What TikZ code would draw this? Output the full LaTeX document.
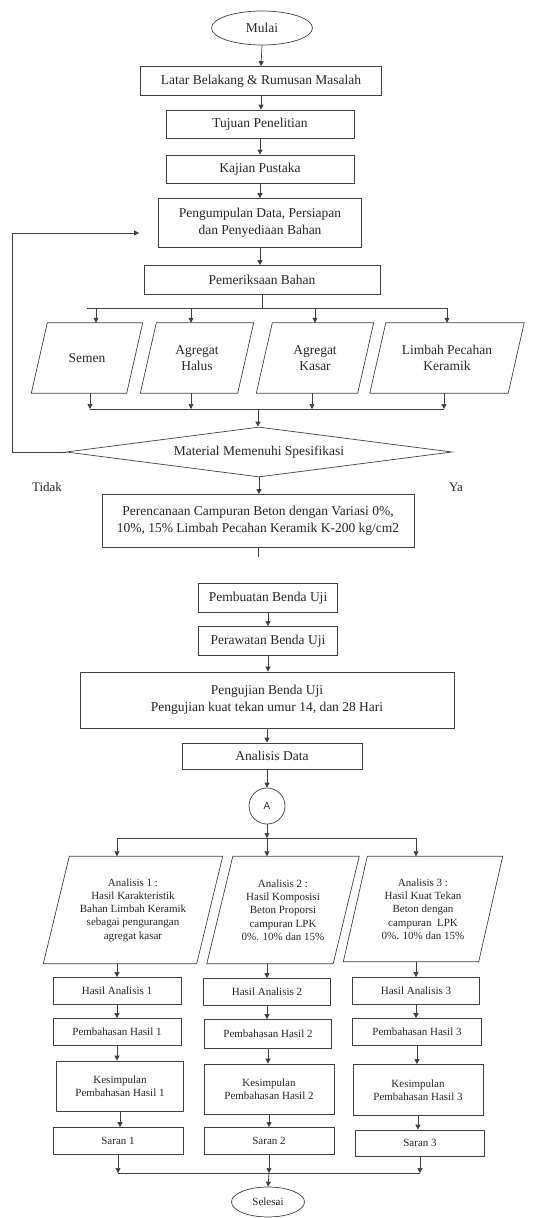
\documentclass[tikz,border=0pt]{standalone}
\usepackage{fontspec}
\setmainfont{Liberation Serif}
\newfontfamily\sansA{Liberation Sans}
\usepackage{tikz}
\usetikzlibrary{positioning,shapes.geometric,arrows.meta}

% parallelogram drawn round a text node
\newcommand{\slantdraw}[2]{%
	\draw[line width=0.7pt, draw=black!75]
	([xshift=#2]#1.north west) -- ([xshift=#2]#1.north east) --
	([xshift=-#2]#1.south east) -- ([xshift=-#2]#1.south west) -- cycle;}

\begin{document}
\begin{tikzpicture}[x=1pt, y=-1pt,
			box/.style={
				draw=black!75, line width=0.7pt, rectangle, align=center,
				inner sep=0pt, text=black!85,
				font=\fontsize{13.5}{16.5}\selectfont
			},
			smallbox/.style={box, font=\fontsize{11}{13.3}\selectfont},
			slanted/.style={
				rectangle, align=center, inner sep=0pt, text=black!85,
				font=\fontsize{13.5}{16.5}\selectfont
			},
			smallslanted/.style={slanted, font=\fontsize{11}{13.3}\selectfont},
			oval/.style={box, ellipse},
			decision/.style={box, diamond, shape aspect=7.7},
			lbl/.style={text=black!85, font=\fontsize{13}{15}\selectfont},
			arr/.style={-{Triangle[length=5pt,width=5pt]}, line width=0.7pt, draw=black!75},
			conn/.style={line width=0.7pt, draw=black!75}
			]
			\useasboundingbox (0,0) rectangle (533,1218);
			
			%==================== tahap awal ====================
			\node[oval, minimum width=101pt, minimum height=34pt] (start) at (262,28) {Mulai};
			\node[box, minimum width=241pt, minimum height=29pt] (latar) at (261,81) {Latar Belakang \& Rumusan Masalah};
			\node[box, minimum width=188pt, minimum height=28pt] (tujuan) at (260,124) {Tujuan Penelitian};
			\node[box, minimum width=188pt, minimum height=28pt] (kajian) at (260,169) {Kajian Pustaka};
			\node[box, minimum width=203pt, minimum height=49pt] (kumpul) at (260,223) {Pengumpulan Data, Persiapan\\dan Penyediaan Bahan};
			\node[box, minimum width=236pt, minimum height=29pt] (periksa) at (262,280) {Pemeriksaan Bahan};
			
			%==================== bahan ====================
			\node[slanted, minimum width=95pt, minimum height=70pt] (semen) at (87,358) {Semen};
			\node[slanted, minimum width=97pt, minimum height=70pt] (halus) at (197,358) {Agregat\\Halus};
			\node[slanted, minimum width=101pt, minimum height=70pt] (kasar) at (315,358) {Agregat\\Kasar};
			\node[slanted, minimum width=138pt, minimum height=70pt] (limbah) at (447,358) {Limbah Pecahan\\Keramik};
			\slantdraw{semen}{8pt}
			\slantdraw{halus}{8pt}
			\slantdraw{kasar}{8pt}
			\slantdraw{limbah}{8pt}
			
			\coordinate (split1) at (262,308);
			\coordinate (join1) at (258,409);
			
			\node[decision, minimum width=386pt, minimum height=50pt] (cek) at (259,452) {Material Memenuhi Spesifikasi};
			\coordinate (back) at (12,233);
			\node[lbl] (tidak) at (47,487) {Tidak};
			\node[lbl] (ya) at (456,487) {Ya};
			
			\node[box, minimum width=312pt, minimum height=53pt] (rencana) at (258,521) {Perencanaan Campuran Beton dengan Variasi 0\%,\\10\%, 15\% Limbah Pecahan Keramik K-200 kg/cm2};
			\coordinate (cut) at (258,557);
			
			%==================== benda uji ====================
			\node[box, minimum width=139pt, minimum height=29pt] (buat) at (268,598) {Pembuatan Benda Uji};
			\node[box, minimum width=139pt, minimum height=29pt] (rawat) at (268,641) {Perawatan Benda Uji};
			\node[box, minimum width=374pt, minimum height=56pt] (uji) at (267,700) {Pengujian Benda Uji\\Pengujian kuat tekan umur 14, dan 28 Hari};
			\node[box, minimum width=180pt, minimum height=26pt] (data) at (272,756) {Analisis Data};
			\node[box, circle, minimum size=36pt, font=\sansA\fontsize{10}{12}\selectfont] (conA) at (267,806) {A};
			\coordinate (split2) at (267,838);
			
			%==================== analisis ====================
			\node[smallslanted, minimum width=153pt, minimum height=107pt] (an1) at (133,910) {Analisis 1 :\\Hasil Karakteristik\\Bahan Limbah Keramik\\sebagai pengurangan\\agregat kasar};
			\node[smallslanted, minimum width=126pt, minimum height=107pt] (an2) at (283,910) {Analisis 2 :\\Hasil Komposisi\\Beton Proporsi\\campuran LPK\\0\%. 10\% dan 15\%};
			\node[smallslanted, minimum width=135pt, minimum height=105pt] (an3) at (423,909) {Analisis 3 :\\Hasil Kuat Tekan\\Beton dengan\\campuran\ \ LPK\\0\%. 10\% dan 15\%};
			\slantdraw{an1}{13pt}
			\slantdraw{an2}{13pt}
			\slantdraw{an3}{12pt}
			
			\node[smallbox, minimum width=128pt, minimum height=27pt] (hasil1) at (117,991) {Hasil Analisis 1};
			\node[smallbox, minimum width=127pt, minimum height=27pt] (hasil2) at (267,992) {Hasil Analisis 2};
			\node[smallbox, minimum width=127pt, minimum height=27pt] (hasil3) at (416,991) {Hasil Analisis 3};
			
			\node[smallbox, minimum width=128pt, minimum height=27pt] (bahas1) at (117,1032) {Pembahasan Hasil 1};
			\node[smallbox, minimum width=127pt, minimum height=29pt] (bahas2) at (268,1034) {Pembahasan Hasil 2};
			\node[smallbox, minimum width=129pt, minimum height=27pt] (bahas3) at (417,1032) {Pembahasan Hasil 3};
			
			\node[smallbox, minimum width=127pt, minimum height=50pt] (simpul1) at (120,1086) {Kesimpulan\\Pembahasan Hasil 1};
			\node[smallbox, minimum width=130pt, minimum height=50pt] (simpul2) at (269,1089) {Kesimpulan\\Pembahasan Hasil 2};
			\node[smallbox, minimum width=130pt, minimum height=51pt] (simpul3) at (418,1090) {Kesimpulan\\Pembahasan Hasil 3};
			
			\node[smallbox, minimum width=130pt, minimum height=27pt] (saran1) at (118,1141) {Saran 1};
			\node[smallbox, minimum width=130pt, minimum height=27pt] (saran2) at (269,1141) {Saran 2};
			\node[smallbox, minimum width=129pt, minimum height=26pt] (saran3) at (420,1143) {Saran 3};
			
			\coordinate (join2) at (269,1173);
			\node[oval, minimum width=73pt, minimum height=30pt, font=\fontsize{11}{13}\selectfont] (end) at (268,1202) {Selesai};
			
			%==================== connectors ====================
			\draw[arr] (start.south) -- (latar.north);
			\draw[arr] (latar.south) -- (latar.south |- tujuan.north);
			\draw[arr] (tujuan.south) -- (kajian.north);
			\draw[arr] (kajian.south) -- (kumpul.north);
			\draw[arr] (kumpul.south) -- (kumpul.south |- periksa.north);
			
			\draw[conn] (periksa.south) -- (periksa.south |- split1);
			\draw[conn] (split1 -| semen.north) -- (split1 -| limbah.north);
			\draw[arr] ([xshift=9pt]semen.north |- split1) -- ([xshift=9pt]semen.north);
			\draw[arr] ([xshift=-6pt]halus.north |- split1) -- ([xshift=-6pt]halus.north);
			\draw[arr] (kasar.north |- split1) -- (kasar.north);
			\draw[arr] (limbah.north |- split1) -- (limbah.north);
			
			\draw[arr] ([xshift=3pt]semen.south) -- ([xshift=3pt]semen.south |- join1);
			\draw[arr] ([xshift=-6pt]halus.south) -- ([xshift=-6pt]halus.south |- join1);
			\draw[arr] ([xshift=-3pt]kasar.south) -- ([xshift=-3pt]kasar.south |- join1);
			\draw[arr] ([xshift=-3pt]limbah.south) -- ([xshift=-3pt]limbah.south |- join1);
			\draw[conn] ([xshift=3pt]semen.south |- join1) -- ([xshift=-3pt]limbah.south |- join1);
			\draw[arr] (join1) -- (join1 |- cek.north);
			
			\draw[arr, shorten >=19pt] (cek.west) -| (back) -- (back -| kumpul.west);
			\draw[arr] (cek.south) -- (cek.south |- rencana.north);
			\draw[conn] (rencana.south) -- (cut);
			
			\draw[arr] (buat.south) -- (rawat.north);
			\draw[arr] (rawat.south) -- (rawat.south |- uji.north);
			\draw[arr] (uji.south) -- (uji.south |- data.north);
			\draw[arr] (data.south -| conA.north) -- (conA.north);
			
			\draw[arr] (conA.south) -- (split2);
			\draw[conn] (split2 -| hasil1.north) -- (split2 -| hasil3.north);
			\draw[arr] (split2 -| hasil1.north) -- (hasil1.north |- an1.north);
			\draw[arr] (split2) -- (split2 |- an2.north);
			\draw[arr] (split2 -| hasil3.north) -- (hasil3.north |- an3.north);
			
			\draw[arr] (an1.south -| hasil1.north) -- (hasil1.north);
			\draw[arr] (an2.south -| hasil2.north) -- (hasil2.north);
			\draw[arr] (an3.south -| hasil3.north) -- (hasil3.north);
			\draw[arr] (hasil1.south) -- (hasil1.south |- bahas1.north);
			\draw[arr] (hasil2.south) -- (hasil2.south |- bahas2.north);
			\draw[arr] (hasil3.south) -- (hasil3.south |- bahas3.north);
			\draw[arr] (bahas1.south) -- (bahas1.south |- simpul1.north);
			\draw[arr] (bahas2.south) -- (bahas2.south |- simpul2.north);
			\draw[arr] (bahas3.south) -- (bahas3.south |- simpul3.north);
			\draw[arr] (simpul1.south) -- (simpul1.south |- saran1.north);
			\draw[arr] (simpul2.south) -- (simpul2.south |- saran2.north);
			\draw[arr] (simpul3.south) -- (simpul3.south |- saran3.north);
			
			\draw[arr] (saran1.south) -- (saran1.south |- join2);
			\draw[arr] (saran2.south) -- (join2);
			\draw[arr] (saran3.south) -- (saran3.south |- join2);
			\draw[conn] (saran1.south |- join2) -- (saran3.south |- join2);
			\draw[arr] (join2) -- (end.north);
			
		\end{tikzpicture}
\end{document}
